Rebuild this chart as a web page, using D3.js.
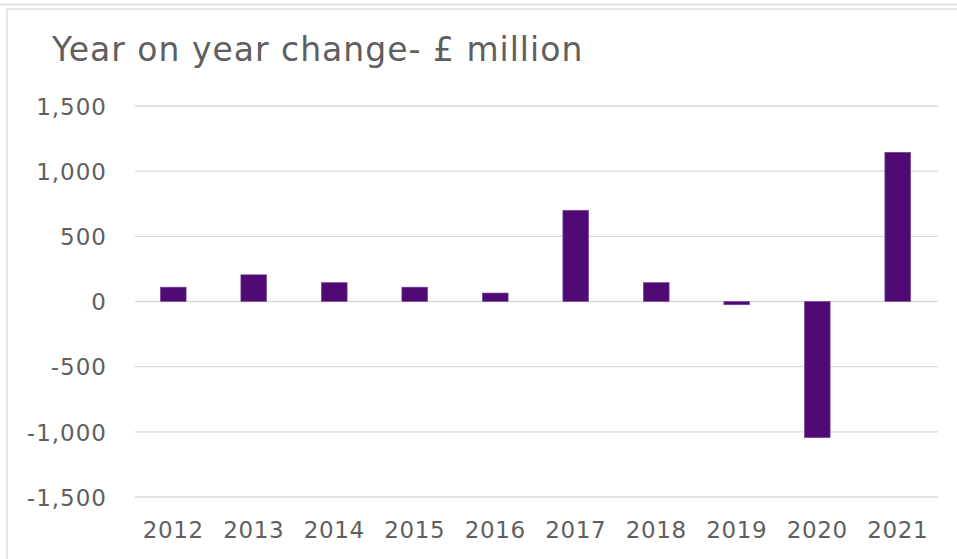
<!DOCTYPE html>
<html>
<head>
<meta charset="utf-8">
<script src="https://cdn.jsdelivr.net/npm/d3@7"></script>
<style>
  html, body { margin: 0; padding: 0; background: #fff; }
  svg { display: block; }
</style>
</head>
<body>
<svg id="chart" width="957" height="559"></svg>
<script>
const title = "Year on year change- £ million";
const years = ["2012","2013","2014","2015","2016","2017","2018","2019","2020","2021"];
const values = [110, 205, 145, 110, 65, 700, 145, -25, -1045, 1145];
const yTicks = [-1500, -1000, -500, 0, 500, 1000, 1500];

const svg = d3.select("#chart");
const W = 957, H = 559;
const font = "'DejaVu Sans', sans-serif";
const textColor = "#5f5f5f";

// frame lines
svg.append("line").attr("x1", 0).attr("x2", W).attr("y1", 4.5).attr("y2", 4.5)
  .attr("stroke", "#dcdcdc").attr("stroke-width", 1.5);
svg.append("line").attr("x1", 7).attr("x2", W).attr("y1", 9).attr("y2", 9)
  .attr("stroke", "#dcdcdc").attr("stroke-width", 1.5);
svg.append("line").attr("x1", 7).attr("x2", 7).attr("y1", 9).attr("y2", H)
  .attr("stroke", "#dcdcdc").attr("stroke-width", 1.5);

const x = d3.scaleBand().domain(years).range([133, 938]).paddingInner(0.68).paddingOuter(0.34);
const y = d3.scaleLinear().domain([-1500, 1500]).range([497, 106]);

// gridlines
svg.append("g").selectAll("line").data(yTicks).join("line")
  .attr("x1", 135).attr("x2", 938)
  .attr("y1", d => y(d)).attr("y2", d => y(d))
  .attr("stroke", "#d9d9d9").attr("stroke-width", 1.3);

// y axis labels
const fmt = d3.format(",d");
const yAxis = d3.axisLeft(y).tickValues(yTicks).tickSize(0).tickPadding(0)
  .tickFormat(d => fmt(d).replace("\u2212", "-"));
const gy = svg.append("g").attr("transform", "translate(107,0)").call(yAxis);
gy.select(".domain").remove();
gy.selectAll("text").attr("font-family", font).attr("font-size", 23).attr("fill", textColor)
  .attr("letter-spacing", 1).attr("dy", "0.36em");

// x axis labels
const xAxis = d3.axisBottom(x).tickSize(0).tickPadding(0);
const gx = svg.append("g").attr("transform", "translate(0,520)").call(xAxis);
gx.select(".domain").remove();
gx.selectAll("text").attr("font-family", font).attr("font-size", 23).attr("fill", textColor)
  .attr("letter-spacing", 0.6).attr("dy", "0.8em");

// bars
svg.append("g").selectAll("rect").data(values).join("rect")
  .attr("x", (d, i) => x(years[i]))
  .attr("width", x.bandwidth())
  .attr("y", d => y(Math.max(0, d)))
  .attr("height", d => Math.abs(y(d) - y(0)))
  .attr("fill", "#500a74")
  .attr("stroke", "#7b4a9c").attr("stroke-width", 0.6);

// title
svg.append("text").attr("x", 52).attr("y", 61)
  .attr("font-family", font).attr("font-size", 33).attr("fill", textColor)
  .attr("letter-spacing", 1)
  .text(title);
</script>
</body>
</html>
